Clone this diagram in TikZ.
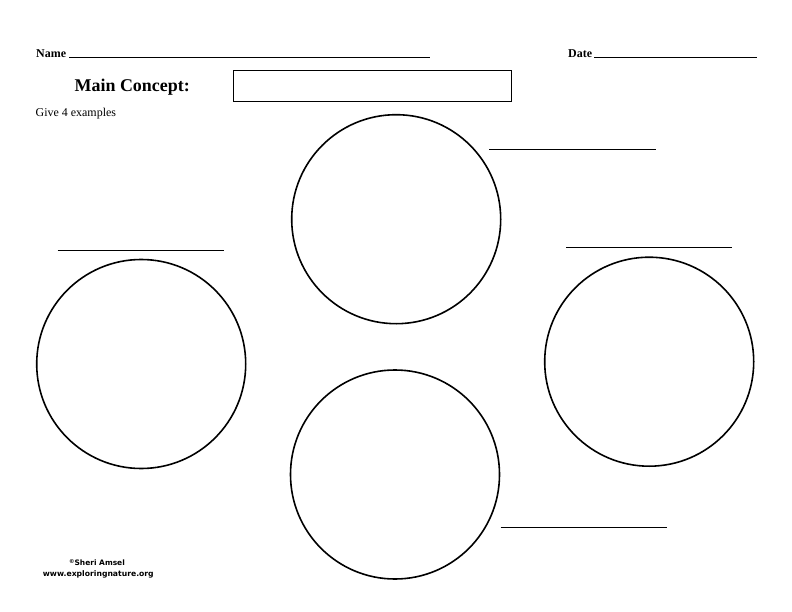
\documentclass[tikz,border=0pt]{standalone}
\usepackage{fontspec}
\setmainfont{Liberation Serif}
\newfontfamily\creditfont{DejaVu Sans}
\begin{document}
\begin{tikzpicture}[x=1bp,y=-1bp,
  ring/.style={circle, draw=black, line width=1.6bp, minimum size=209bp, inner sep=0pt},
  answerline/.style={draw=black, line width=1bp},
  fieldline/.style={draw=black, line width=1.1bp},
  label/.style={inner sep=0pt, anchor=base west},
  conceptbox/.style={draw=black, line width=1.3bp, minimum width=278bp, minimum height=31bp, inner sep=0pt}
]
\useasboundingbox[fill=white] (0,0) rectangle (792,612);

% header
\node[label, font=\bfseries\fontsize{12}{14}\selectfont] (name) at (36,57.5) {Name};
\coordinate (nameA) at (69,57.7);
\coordinate (nameB) at (430,57.7);
\draw[fieldline] (nameA) -- (nameB);
\node[label, font=\bfseries\fontsize{12}{14}\selectfont] (date) at (568,57.5) {Date};
\coordinate (dateA) at (594,57.7);
\coordinate (dateB) at (757,57.7);
\draw[fieldline] (dateA) -- (dateB);

\node[label, font=\bfseries\fontsize{18}{20}\selectfont] (main) at (74.5,92) {Main Concept:};
\node[conceptbox] (box) at (372.2,86) {};
\node[label, font=\fontsize{12}{14}\selectfont] (give) at (35.5,116.5) {Give 4 examples};

% circles
\node[ring] (top) at (396.2,219.2) {};
\node[ring] (left) at (141.2,364) {};
\node[ring] (right) at (649.2,361.7) {};
\node[ring] (bottom) at (395,474.5) {};

% answer lines
\coordinate (tA) at (489.3,149.3); \coordinate (tB) at (655.7,149.3);
\draw[answerline] (tA) -- (tB);
\coordinate (lA) at (57.7,250); \coordinate (lB) at (224,250);
\draw[answerline] (lA) -- (lB);
\coordinate (rA) at (566,247.7); \coordinate (rB) at (732.3,247.7);
\draw[answerline] (rA) -- (rB);
\coordinate (bA) at (500.7,527.3); \coordinate (bB) at (666.7,527.3);
\draw[answerline] (bA) -- (bB);

% credit
\node[inner sep=0pt, anchor=base, font=\creditfont\bfseries\fontsize{7.5}{9}\selectfont] (credit1) at (97,565) {{\fontsize{5.5}{6}\selectfont\raisebox{1.5pt}{©}}Sheri Amsel};
\node[inner sep=0pt, anchor=base, font=\creditfont\bfseries\fontsize{7.7}{9}\selectfont] (credit2) at (98.3,576.7) {www.exploringnature.org};
\end{tikzpicture}
\end{document}
